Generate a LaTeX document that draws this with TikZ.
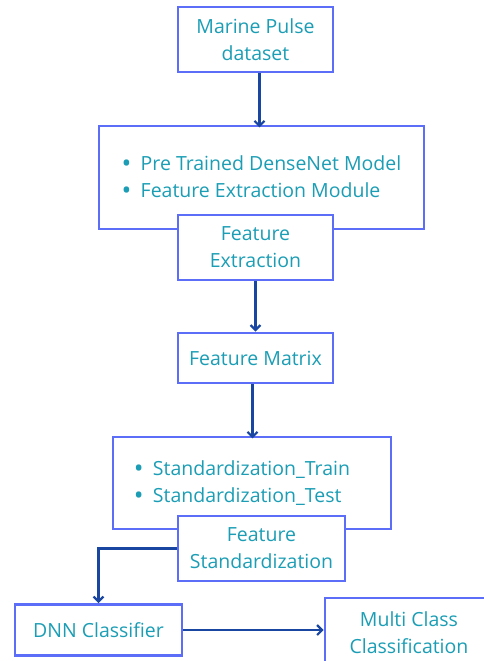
\documentclass[tikz,border=0pt]{standalone}
\usepackage{fontspec}
\setmainfont{Open Sans}
\usetikzlibrary{arrows.meta,positioning}
\definecolor{boxblue}{HTML}{5C6DF8}
\definecolor{labelteal}{HTML}{1B9EB5}
\definecolor{flowblue}{HTML}{1846A0}
\newcommand{\bulletmark}{\makebox[19pt][l]{\raisebox{-0.12em}{\fontsize{26}{26}\selectfont •}}}

\begin{document}
\begin{tikzpicture}[x=1pt,y=-1pt,
  stage/.style={draw=boxblue,line width=2.8pt,fill=white,text=labelteal,
    align=center,inner sep=0pt,font=\fontsize{19.5}{27}\selectfont},
  flow/.style={draw=flowblue,line width=2.4pt,-{Straight Barb[length=5pt,width=10pt,line width=2.2pt]}}]
  \useasboundingbox (0,0) rectangle (483,661);
  \node[stage,minimum width=155pt,minimum height=65pt] (dataset) at (255.5,39.5) {Marine Pulse\\dataset};
  \node[stage,minimum width=325pt,minimum height=103pt,align=left] (densenet) at (261.5,177.5)
    {\bulletmark Pre Trained DenseNet Model\\\bulletmark Feature Extraction Module};
  \node[stage,minimum width=155pt,minimum height=65pt] (extract) at (255.5,247.5) {Feature\\Extraction};
  \node[stage,minimum width=155pt,minimum height=50pt] (matrix) at (255.5,358) {Feature Matrix};
  \node[stage,minimum width=278pt,minimum height=92pt,align=left] (stdbox) at (252,483)
    {\bulletmark Standardization\_Train\hspace*{20pt}\\\bulletmark Standardization\_Test};
  \node[stage,minimum width=167pt,minimum height=65pt] (stdz) at (261.5,548.5) {Feature\\Standardization};
  \node[stage,minimum width=167pt,minimum height=51pt] (dnn) at (98.5,630) {DNN Classifier};
  \node[stage,minimum width=168pt,minimum height=70pt] (multi) at (409,633) {Multi Class\\Classification};
  \draw[flow] (dataset.south) ++(4,0) -- ++(0,54);
  \draw[flow] (extract.south) -- (extract.south |- matrix.north);
  \draw[flow] (matrix.south) ++(-3,0) -- ++(0,54);
  \draw[flow] (stdz.west) -| (dnn.north);
  \draw[flow] (dnn.east) -- (multi.west |- dnn.east);
\end{tikzpicture}
\end{document}
